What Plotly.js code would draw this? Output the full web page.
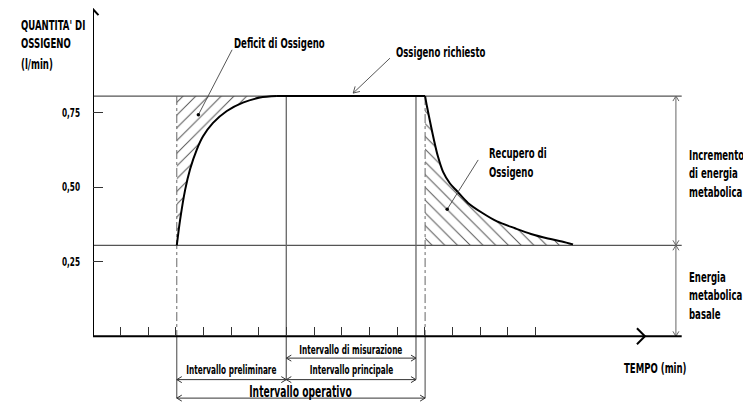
<!DOCTYPE html>
<html><head><meta charset="utf-8">
<script src="https://cdn.plot.ly/plotly-3.0.1.min.js"></script>
<style>html,body{margin:0;padding:0;background:#fff}</style>
</head><body>
<div id="chart" style="width:743px;height:402px"></div>
<script>
// ---- data (time axis in tick units, oxygen in l/min) ----
const riseX = [3.03, 3.15, 3.33, 3.51, 3.75, 3.98, 4.34, 4.84, 5.42, 6.04, 6.65];
const riseY = [0.305, 0.39, 0.49, 0.56, 0.625, 0.67, 0.715, 0.755, 0.783, 0.800, 0.805];
const fallX = [12.01, 12.08, 12.19, 12.33, 12.47, 12.66, 12.91, 13.16, 13.56, 14.07, 14.61, 15.26, 15.84, 16.45, 16.96, 17.36];
const fallY = [0.805, 0.769, 0.719, 0.658, 0.604, 0.551, 0.512, 0.487, 0.447, 0.414, 0.385, 0.362, 0.343, 0.328, 0.318, 0.308];
const required = 0.805;     // Ossigeno richiesto
const basal = 0.305;        // Energia metabolica basale
const tStart = 3.03;        // inizio intervallo operativo
const tMeasure = 6.99;      // inizio intervallo di misurazione
const tEndMeasure = 11.68;  // fine intervallo di misurazione
const tEnd = 12.01;         // fine intervallo operativo
const xTicks = [1,2,3,4,5,6,7,8,9,10,11,12,13,14,15,16];
const yTicks = [0.25, 0.5, 0.75];
const yTickText = ['0,25', '0,50', '0,75'];

// ---- geometry helpers ----
const W = 743, H = 402, ML = 93, MR = 14, MT = 8, MB = 0;
const XR = [0, 23], YR = [-0.22, 1.1];
const PX = (W - ML - MR) / (XR[1] - XR[0]);
const PY = (H - MT - MB) / (YR[1] - YR[0]);
const xEndLines = 21.29, xArrowTip = 19.96, yArrowTip = 1.096, xDim = 21.08;
const yMis = -0.073, yPrin = -0.145, yOp = -0.207;
const FONT = "'DejaVu Sans Condensed', 'DejaVu Sans', sans-serif";
const SQUEEZE = 0.68;

function chevron(tx, ty, vx, vy, len, half) {
  const n = Math.hypot(vx, vy); const ux = vx / n, uy = vy / n;
  const px = -uy, py = ux;
  const w1x = -ux * len + px * half, w1y = -uy * len + py * half;
  const w2x = -ux * len - px * half, w2y = -uy * len - py * half;
  return {x: [tx + w1x / PX, tx, tx + w2x / PX, null], y: [ty - w1y / PY, ty, ty - w2y / PY, null]};
}
function merge(list) {
  const o = {x: [], y: []};
  list.forEach(c => { o.x.push(...c.x); o.y.push(...c.y); });
  return o;
}
function seg(x0, y0, x1, y1) { return {x: [x0, x1, null], y: [y0, y1, null]}; }
function lineTrace(d, color, width, dash, shape) {
  return {x: d.x, y: d.y, mode: 'lines', line: {color: color, width: width, dash: dash || 'solid', shape: shape || 'linear', smoothing: 0.8},
          hoverinfo: 'skip', showlegend: false, cliponaxis: false};
}

const traces = [];
traces.push({x: [...riseX, tStart], y: [...riseY, required], mode: 'lines', fill: 'toself',
  fillcolor: 'rgba(0,0,0,0)', line: {width: 0, color: 'rgba(0,0,0,0)'},
  fillpattern: {shape: '/', size: 9, solidity: 0.11, fgcolor: '#555', bgcolor: 'rgba(0,0,0,0)'},
  hoverinfo: 'skip', showlegend: false});
traces.push({x: [...fallX, fallX[fallX.length - 1], tEnd], y: [...fallY, basal, basal], mode: 'lines', fill: 'toself',
  fillcolor: 'rgba(0,0,0,0)', line: {width: 0, color: 'rgba(0,0,0,0)'},
  fillpattern: {shape: '\\', size: 9, solidity: 0.11, fgcolor: '#555', bgcolor: 'rgba(0,0,0,0)'},
  hoverinfo: 'skip', showlegend: false});
traces.push(lineTrace(merge([seg(0, required, xEndLines, required), seg(0, basal, xEndLines, basal)]), '#555', 1.2));
traces.push(lineTrace(merge([seg(tStart, required, tStart, 0), seg(tEnd, required, tEnd, 0)]), '#666', 1, 'dashdot'));
traces.push(lineTrace(merge([seg(tStart, 0, tStart, yOp), seg(tEnd, 0, tEnd, yOp)]), '#444', 1));
traces.push(lineTrace(merge([seg(tMeasure, required, tMeasure, yPrin), seg(tEndMeasure, required, tEndMeasure, yPrin)]), '#666', 1.3));
const dims = merge([
  seg(tMeasure, yMis, tEndMeasure, yMis), chevron(tMeasure, yMis, -1, 0, 5, 3), chevron(tEndMeasure, yMis, 1, 0, 5, 3),
  seg(tStart, yPrin, tEndMeasure, yPrin), chevron(tStart, yPrin, -1, 0, 5, 3), chevron(tMeasure, yPrin, 1, 0, 5, 3),
  chevron(tMeasure, yPrin, -1, 0, 5, 3), chevron(tEndMeasure, yPrin, 1, 0, 5, 3),
  seg(tStart, yOp, tEnd, yOp), chevron(tStart, yOp, -1, 0, 5, 3), chevron(tEnd, yOp, 1, 0, 5, 3)
]);
traces.push(lineTrace(dims, '#333', 1));
const rdim = merge([
  seg(xDim, required, xDim, 0), chevron(xDim, required, 0, -1, 5, 3), chevron(xDim, basal, 0, 1, 5, 3),
  chevron(xDim, basal, 0, -1, 5, 3), chevron(xDim, 0, 0, 1, 5, 3)
]);
traces.push(lineTrace(rdim, '#666', 1));
// curve: rise, plateau, fall
traces.push(lineTrace({x: riseX, y: riseY}, '#000', 2, 'solid', 'spline'));
traces.push(lineTrace(seg(riseX[riseX.length - 1], required, fallX[0], required), '#000', 2));
traces.push(lineTrace({x: fallX, y: fallY}, '#000', 2, 'solid', 'spline'));
// axes
traces.push(lineTrace(merge([seg(0, 0, 0, yArrowTip), seg(0, 0, xEndLines, 0),
  chevron(0, yArrowTip, 0, -1, 6, 5.5), chevron(xArrowTip, 0, 1, 0, 8, 8)]), '#000', 2));
// pointer lines
const pDef = [[5.03, 0.96], [3.81, 0.742]];
const pReq = [[10.74, 0.932], [9.41, 0.815]];
const pRec = [[13.93, 0.591], [12.81, 0.426]];
traces.push(lineTrace(merge([seg(pDef[0][0], pDef[0][1], pDef[1][0], pDef[1][1]),
  seg(pReq[0][0], pReq[0][1], pReq[1][0], pReq[1][1]),
  chevron(pReq[1][0], pReq[1][1], -36.7, 35, 6, 3.5),
  seg(pRec[0][0], pRec[0][1], pRec[1][0], pRec[1][1])]), '#444', 0.9));
traces.push({x: [pDef[1][0], pRec[1][0]], y: [pDef[1][1], pRec[1][1]], mode: 'markers',
  marker: {color: '#000', size: 3.5}, hoverinfo: 'skip', showlegend: false});

// ---- labels ----
function lab(text, x, y, size, anchor, xref) {
  return {text: text, x: x, y: y, xref: xref || 'x', yref: 'y', showarrow: false,
          xanchor: anchor || 'left', yanchor: 'middle',
          font: {family: FONT, size: size || 14, color: '#000', weight: 700}};
}
const yTop = (336.4) / PY;
const leftX = (19 - ML) / (W - ML - MR);
const annotations = [
  lab("QUANTITA' DI", leftX, yTop - 25 / PY, 14, 'left', 'paper'),
  lab('OSSIGENO', leftX, yTop - 43.5 / PY, 14, 'left', 'paper'),
  lab('(l/min)', leftX, yTop - 64 / PY, 14, 'left', 'paper'),
  lab('Deficit di Ossigeno', 5.03, 0.983),
  lab('Ossigeno richiesto', 10.89, 0.951),
  lab('Recupero di', 14.24, 0.614),
  lab('Ossigeno', 14.24, 0.552),
  lab('Incremento', 21.47, 0.609),
  lab('di energia', 21.47, 0.547),
  lab('metabolica', 21.47, 0.485),
  lab('Energia', 21.47, 0.200),
  lab('metabolica', 21.47, 0.139),
  lab('basale', 21.47, 0.074),
  lab('TEMPO (min)', 19.13, -0.105),
  lab('Intervallo di misurazione', (tMeasure + tEndMeasure) / 2, -0.047, 12, 'center'),
  lab('Intervallo preliminare', (tStart + tMeasure) / 2, -0.114, 12, 'center'),
  lab('Intervallo principale', (tMeasure + tEndMeasure) / 2, -0.114, 12, 'center'),
  lab('Intervallo operativo', (tStart + tEnd) / 2, -0.185, 15, 'center')
];

const layout = {
  width: W, height: H, margin: {l: ML, r: MR, t: MT, b: MB}, paper_bgcolor: '#fff', plot_bgcolor: '#fff',
  showlegend: false, separators: ',.',
  xaxis: {range: XR, anchor: 'free', position: -YR[0] / (YR[1] - YR[0]), showgrid: false, zeroline: false,
          showline: false, ticks: 'inside', tickvals: xTicks, ticklen: 9, tickwidth: 1, tickcolor: '#333',
          showticklabels: false, fixedrange: true},
  yaxis: {range: YR, showgrid: false, zeroline: false, showline: false, ticks: 'inside', tickvals: yTicks,
          ticktext: yTickText, ticklen: 10, tickwidth: 1, tickcolor: '#333', ticklabelstandoff: 12,
          tickfont: {family: FONT, size: 12, color: '#000', weight: 700}, fixedrange: true},
  annotations: annotations
};

function squeeze(t, mode) {
  const b = t.getBBox();
  const ax = mode === 'left' ? b.x : mode === 'right' ? b.x + b.width : b.x + b.width / 2;
  const prev = t.getAttribute('transform') || '';
  t.setAttribute('transform', prev + ' translate(' + ax + ',0) scale(' + SQUEEZE + ',1) translate(' + (-ax) + ',0)');
}
Plotly.newPlot('chart', traces, layout, {staticPlot: true, displayModeBar: false}).then(function () {
  document.querySelectorAll('.annotation').forEach(function (g) {
    const i = +g.getAttribute('data-index');
    const t = g.querySelector('text.annotation-text');
    if (t && annotations[i]) squeeze(t, annotations[i].xanchor);
  });
  document.querySelectorAll('.ytick text').forEach(function (t) { squeeze(t, 'right'); });
});
</script>
</body></html>
